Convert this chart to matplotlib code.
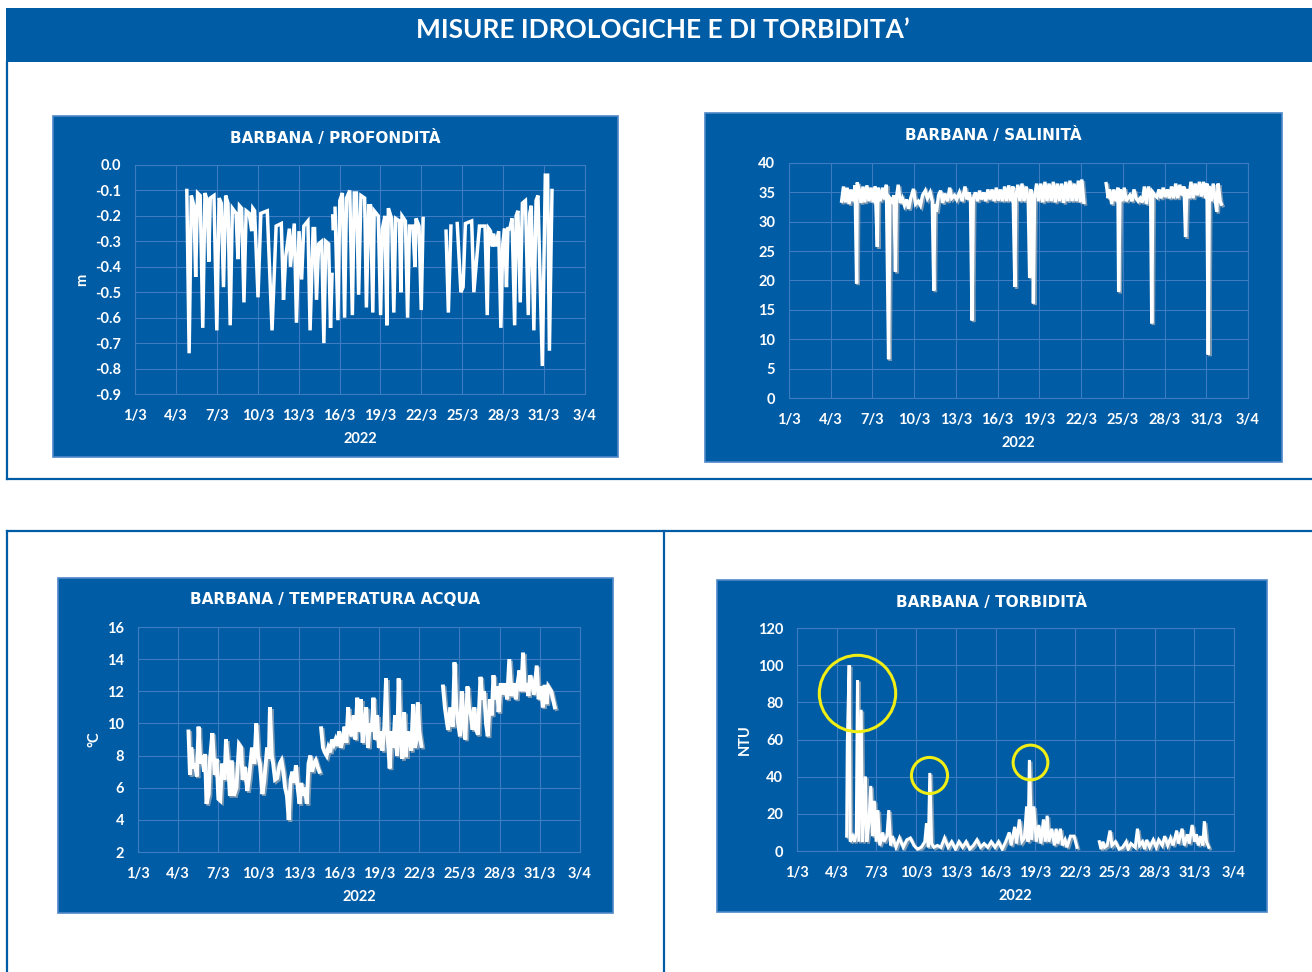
import matplotlib.pyplot as plt
import matplotlib.patheffects as pe
from matplotlib.lines import Line2D
from matplotlib.patches import Rectangle

plt.rcParams['font.family'] = ['Lato', 'DejaVu Sans']
plt.rcParams['font.weight'] = 'bold'
plt.rcParams['axes.unicode_minus'] = False

# ---- data (x = days since 1 March 2022) ----
page_title = 'MISURE IDROLOGICHE E DI TORBIDITA’'
year_label = '2022'
day_ticks = [0, 3, 6, 9, 12, 15, 18, 21, 24, 27, 30, 33]
day_labels = ['1/3', '4/3', '7/3', '10/3', '13/3', '16/3', '19/3', '22/3',
              '25/3', '28/3', '31/3', '3/4']

# water depth (m), one list per uninterrupted stretch of logging
depth_segments = [
    [(3.80, -0.10), (3.97, -0.74), (4.13, -0.12), (4.32, -0.16), (4.45, -0.44),
     (4.59, -0.11), (4.78, -0.12), (4.97, -0.64), (5.13, -0.11), (5.30, -0.14),
     (5.41, -0.38), (5.52, -0.13), (5.79, -0.12), (6.00, -0.65), (6.17, -0.13),
     (6.33, -0.15), (6.49, -0.48), (6.65, -0.12), (6.82, -0.15), (6.98, -0.63),
     (7.14, -0.17), (7.41, -0.19), (7.55, -0.37), (7.66, -0.16), (7.82, -0.17),
     (7.99, -0.54), (8.15, -0.18), (8.37, -0.19), (8.56, -0.26), (8.64, -0.17),
     (8.77, -0.18), (9.02, -0.52), (9.23, -0.19), (9.70, -0.18), (10.05, -0.65),
     (10.35, -0.24), (10.73, -0.23), (10.89, -0.53), (11.05, -0.36), (11.32, -0.25),
     (11.40, -0.40), (11.68, -0.23), (11.84, -0.62), (12.03, -0.26), (12.22, -0.45),
     (12.38, -0.24), (12.68, -0.22), (12.84, -0.65), (13.06, -0.25), (13.17, -0.25),
     (13.31, -0.53), (13.47, -0.31), (13.69, -0.30), (13.85, -0.70), (13.99, -0.30),
     (14.20, -0.31), (14.34, -0.64), (14.45, -0.43)],
    [(14.50, -0.20), (14.53, -0.25)],
    [(14.67, -0.17), (14.88, -0.61), (15.02, -0.14), (15.21, -0.11), (15.37, -0.60),
     (15.51, -0.13), (15.75, -0.10), (15.94, -0.59), (16.08, -0.11), (16.24, -0.11),
     (16.40, -0.51), (16.57, -0.12), (16.84, -0.13), (16.97, -0.56), (17.14, -0.16),
     (17.27, -0.16), (17.44, -0.58), (17.54, -0.18), (17.84, -0.20), (18.01, -0.59),
     (18.14, -0.25), (18.33, -0.20), (18.47, -0.63), (18.58, -0.17), (18.82, -0.21),
     (18.98, -0.58), (19.12, -0.21), (19.39, -0.22), (19.50, -0.50), (19.58, -0.20),
     (19.83, -0.22), (19.99, -0.60), (20.13, -0.24), (20.37, -0.24), (20.53, -0.40),
     (20.61, -0.21), (20.83, -0.24), (20.99, -0.57), (21.13, -0.21)],
    [(22.81, -0.26), (22.98, -0.58), (23.17, -0.24)],
    [(23.63, -0.23), (23.90, -0.50), (24.06, -0.48), (24.23, -0.23), (24.69, -0.22),
     (24.85, -0.50), (25.26, -0.24), (25.39, -0.24), (25.67, -0.24), (25.83, -0.59),
     (25.94, -0.25), (26.07, -0.26), (26.21, -0.32), (26.29, -0.27), (26.43, -0.32),
     (26.67, -0.26), (26.83, -0.64), (26.97, -0.31), (27.10, -0.25), (27.24, -0.48),
     (27.35, -0.25), (27.49, -0.25), (27.65, -0.21), (27.84, -0.63), (27.95, -0.20),
     (28.08, -0.18), (28.25, -0.54), (28.41, -0.15), (28.63, -0.14), (28.84, -0.59),
     (28.95, -0.19), (29.06, -0.16), (29.25, -0.65), (29.41, -0.14), (29.55, -0.12),
     (29.87, -0.79), (30.09, -0.04), (30.26, -0.04), (30.39, -0.73), (30.58, -0.10)],
]

# salinity
salinity_segments = [
    [(3.78, 33.5), (3.92, 36.0), (4.05, 33.3), (4.18, 35.8), (4.32, 33.0), (4.45, 35.5),
     (4.60, 33.5), (4.75, 36.2), (4.86, 19.5), (4.90, 36.7), (5.05, 35.5), (5.18, 33.2),
     (5.32, 36.0), (5.45, 33.3), (5.60, 36.2), (5.75, 33.5), (5.90, 35.8), (6.05, 33.3),
     (6.20, 36.0), (6.35, 25.7), (6.40, 35.8), (6.55, 33.5), (6.72, 35.8), (6.85, 33.8),
     (7.00, 36.3), (7.16, 6.6), (7.25, 34.0), (7.40, 33.5), (7.55, 34.5), (7.65, 21.5),
     (7.72, 34.0), (7.85, 36.3), (8.00, 33.2), (8.15, 34.0), (8.30, 32.8), (8.45, 33.8),
     (8.60, 32.2), (8.75, 34.0), (8.95, 35.6), (9.10, 33.0), (9.30, 33.5), (9.45, 32.8),
     (9.60, 34.5), (9.80, 35.3), (9.95, 34.0), (10.15, 35.0), (10.30, 33.5), (10.41, 18.3),
     (10.48, 33.0), (10.60, 31.7), (10.75, 34.5), (10.90, 35.3), (11.05, 33.2), (11.20, 34.8),
     (11.40, 33.5), (11.55, 35.8), (11.70, 34.0), (11.90, 34.5), (12.05, 33.8), (12.25, 35.0),
     (12.45, 33.5), (12.65, 36.0), (12.80, 33.8), (12.95, 35.0), (13.05, 33.5), (13.16, 13.2),
     (13.25, 34.0), (13.40, 35.0), (13.55, 33.5), (13.70, 35.3), (13.85, 33.8), (14.00, 35.0),
     (14.15, 33.5), (14.30, 35.5), (14.45, 33.8), (14.60, 35.5), (14.75, 33.5), (14.90, 35.8),
     (15.05, 33.6), (15.20, 35.5), (15.35, 33.5), (15.50, 36.0), (15.65, 33.5), (15.80, 36.2),
     (15.95, 33.5), (16.10, 36.0), (16.24, 18.9), (16.30, 34.0), (16.45, 36.3), (16.60, 33.5),
     (16.75, 36.5), (16.90, 33.5), (17.05, 36.0), (17.20, 33.6), (17.30, 20.5), (17.38, 35.5),
     (17.50, 34.0), (17.57, 16.1), (17.65, 34.0), (17.80, 36.5), (17.95, 33.5), (18.10, 36.5),
     (18.25, 33.3), (18.40, 36.8), (18.55, 33.5), (18.70, 36.5), (18.85, 33.5), (19.00, 36.8),
     (19.15, 33.3), (19.30, 36.5), (19.45, 33.5), (19.60, 36.5), (19.75, 33.2), (19.90, 36.8),
     (20.05, 33.5), (20.20, 37.0), (20.35, 33.5), (20.50, 36.5), (20.65, 33.5), (20.80, 37.0),
     (20.95, 33.3), (21.05, 37.2), (21.20, 33.3)],
    [(22.80, 36.5), (22.95, 34.0), (23.05, 35.5), (23.20, 33.0), (23.35, 35.5), (23.50, 33.5),
     (23.65, 35.8), (23.70, 18.1), (23.80, 35.5), (23.95, 33.5), (24.10, 35.8), (24.25, 33.5),
     (24.35, 34.0), (24.50, 34.5), (24.65, 33.5), (24.80, 35.5), (24.95, 34.0), (25.10, 33.5),
     (25.25, 34.0), (25.40, 33.3), (25.55, 36.0), (25.70, 33.0), (25.85, 36.0), (26.00, 34.0),
     (26.08, 12.7), (26.15, 35.0), (26.30, 34.5), (26.45, 34.2), (26.60, 35.5), (26.75, 34.0),
     (26.90, 35.8), (27.05, 34.2), (27.20, 35.5), (27.35, 34.0), (27.50, 36.0), (27.65, 34.0),
     (27.80, 36.5), (27.95, 34.0), (28.10, 36.3), (28.25, 34.5), (28.40, 36.0), (28.51, 27.4),
     (28.60, 35.5), (28.75, 34.0), (28.90, 36.8), (29.05, 34.0), (29.20, 36.5), (29.35, 34.5),
     (29.50, 36.8), (29.65, 34.3), (29.80, 36.8), (29.95, 34.0), (30.05, 36.5), (30.14, 7.4),
     (30.22, 36.0), (30.35, 33.5), (30.50, 36.5), (30.62, 34.0), (30.75, 31.7), (30.85, 36.5),
     (31.00, 33.5), (31.08, 33.0)],
]

# water temperature (°C)
temperature_segments = [
    [(3.77, 9.5), (3.88, 6.8), (3.98, 8.5), (4.12, 7.2), (4.25, 7.5), (4.39, 6.7), (4.52, 9.8),
     (4.66, 7.5), (4.79, 8.0), (4.93, 7.0), (5.01, 8.1), (5.11, 5.0), (5.28, 5.6), (5.38, 7.8),
     (5.55, 9.4), (5.73, 6.8), (5.87, 7.8), (6.00, 5.3), (6.14, 5.2), (6.27, 7.5), (6.46, 6.5),
     (6.57, 9.0), (6.73, 7.5), (6.86, 5.5), (7.00, 7.7), (7.16, 5.5), (7.35, 6.0), (7.54, 8.7),
     (7.70, 8.5), (7.81, 6.5), (7.97, 7.3), (8.16, 5.8), (8.29, 6.6), (8.51, 8.5), (8.69, 7.5),
     (8.83, 10.0), (8.96, 8.0), (9.10, 7.5), (9.29, 5.6), (9.42, 6.4), (9.64, 8.5), (9.77, 7.8),
     (9.85, 11.0), (9.99, 8.0), (10.09, 7.5), (10.23, 6.5), (10.39, 6.6), (10.58, 7.5),
     (10.71, 7.7), (10.85, 7.0), (10.98, 6.0), (11.12, 5.5), (11.25, 4.0), (11.39, 6.5),
     (11.52, 7.0), (11.66, 6.3), (11.79, 7.4), (11.92, 6.0), (12.06, 5.0), (12.19, 6.3),
     (12.33, 5.5), (12.46, 6.0), (12.60, 5.0), (12.73, 7.5), (12.87, 8.0), (13.00, 7.0),
     (13.14, 7.5), (13.27, 7.7), (13.41, 7.3), (13.54, 7.0)],
    [(13.67, 9.7), (13.81, 8.5), (13.94, 8.2), (14.08, 8.0), (14.21, 8.5), (14.35, 8.2),
     (14.48, 9.0), (14.62, 8.7), (14.75, 9.0), (14.89, 8.6), (15.02, 9.5), (15.15, 8.5),
     (15.29, 9.0), (15.42, 9.8), (15.56, 8.8), (15.69, 11.0), (15.83, 9.5), (15.96, 9.2),
     (16.10, 10.5), (16.23, 9.0), (16.37, 11.6), (16.50, 9.5), (16.64, 11.5), (16.77, 8.8),
     (16.90, 10.0), (17.04, 11.0), (17.17, 8.5), (17.31, 10.0), (17.44, 9.5), (17.58, 11.6),
     (17.71, 9.0), (17.85, 10.5), (17.98, 8.5), (18.12, 9.5), (18.25, 8.3), (18.39, 9.8),
     (18.52, 12.8), (18.65, 9.0), (18.79, 7.2), (18.92, 9.5), (19.06, 8.5), (19.19, 10.5),
     (19.33, 8.0), (19.46, 12.8), (19.60, 9.0), (19.73, 7.8), (19.87, 10.7), (20.00, 7.9),
     (20.13, 9.5), (20.27, 9.0), (20.40, 8.3), (20.54, 11.2), (20.67, 8.5), (20.81, 9.0),
     (20.89, 11.3), (21.00, 9.5), (21.16, 8.6)],
    [(22.77, 12.3), (22.91, 11.0), (23.04, 10.2), (23.15, 9.6), (23.31, 11.0), (23.50, 9.8),
     (23.63, 13.8), (23.77, 11.0), (23.90, 10.0), (24.04, 9.2), (24.17, 12.0), (24.31, 10.0),
     (24.44, 9.0), (24.60, 12.3), (24.71, 11.0), (24.85, 10.5), (24.98, 9.6), (25.11, 11.0),
     (25.25, 9.6), (25.38, 9.3), (25.57, 12.9), (25.71, 11.5), (25.84, 12.0), (25.98, 10.0),
     (26.11, 9.2), (26.27, 11.5), (26.41, 10.5), (26.54, 13.0), (26.65, 11.5), (26.81, 12.3),
     (26.92, 10.7), (27.08, 12.5), (27.27, 11.8), (27.40, 12.5), (27.56, 11.5), (27.72, 14.0),
     (27.89, 11.7), (28.07, 12.5), (28.21, 11.5), (28.34, 12.5), (28.48, 13.3), (28.61, 12.0),
     (28.75, 14.4), (28.88, 12.0), (29.02, 12.5), (29.15, 11.7), (29.29, 13.0), (29.42, 12.5),
     (29.56, 11.8), (29.77, 13.6), (29.91, 11.5), (30.09, 12.3), (30.23, 11.0), (30.36, 12.4),
     (30.50, 11.2), (30.63, 12.3), (30.85, 12.0), (30.98, 11.5), (31.12, 11.0)],
]

# turbidity (NTU)
turbidity_segments = [
    [(3.75, 8), (3.80, 58), (3.94, 100), (4.02, 5), (4.21, 8), (4.35, 5), (4.48, 10),
     (4.57, 92), (4.67, 5), (4.84, 76), (4.95, 5), (5.05, 20), (5.16, 40), (5.27, 5),
     (5.43, 15), (5.57, 35), (5.71, 8), (5.84, 27), (5.98, 5), (6.11, 22), (6.25, 3),
     (6.47, 10), (6.58, 5), (6.79, 8), (6.93, 22), (7.07, 3), (7.20, 8), (7.47, 2),
     (7.74, 7), (8.02, 2), (8.29, 6), (8.56, 7), (8.83, 3), (9.10, 1), (9.38, 2), (9.65, 5),
     (9.78, 15), (9.92, 2), (10.03, 42), (10.16, 4), (10.33, 2), (10.60, 3), (10.87, 2),
     (11.14, 7), (11.41, 2), (11.68, 5), (11.96, 1), (12.23, 5), (12.50, 2), (12.77, 5),
     (13.04, 1), (13.32, 3), (13.59, 6), (13.86, 2), (14.13, 4), (14.40, 2), (14.67, 5),
     (14.95, 2), (15.22, 5), (15.49, 1), (15.76, 5), (16.03, 10), (16.17, 3), (16.44, 13),
     (16.58, 4), (16.79, 17), (16.98, 5), (17.17, 7), (17.34, 24), (17.45, 5), (17.55, 49),
     (17.72, 6), (17.88, 24), (18.07, 5), (18.26, 14), (18.42, 4), (18.61, 17), (18.75, 5),
     (18.89, 19), (19.02, 5), (19.24, 12), (19.43, 3), (19.57, 12), (19.70, 4), (19.89, 12),
     (20.05, 3), (20.24, 6), (20.38, 2), (20.65, 8), (20.92, 8), (21.14, 2)],
    [(22.83, 5), (22.96, 1), (23.10, 5), (23.23, 2), (23.42, 3), (23.64, 11), (23.78, 3),
     (24.05, 5), (24.32, 1), (24.59, 2), (24.86, 5), (25.00, 1), (25.22, 4), (25.54, 2),
     (25.71, 12), (25.87, 3), (26.09, 5), (26.25, 1), (26.41, 6), (26.63, 2), (26.90, 6),
     (27.12, 2), (27.31, 6), (27.58, 3), (27.77, 8), (27.99, 3), (28.21, 7), (28.40, 3),
     (28.67, 11), (28.80, 4), (29.08, 12), (29.24, 3), (29.48, 9), (29.62, 4), (29.84, 14),
     (30.03, 5), (30.16, 9), (30.30, 3), (30.49, 8), (30.65, 3), (30.76, 16), (30.92, 5),
     (31.09, 2)],
]

# turbidity peaks circled in yellow
highlight_days = [4.53, 9.97, 17.6]
highlight_vals = [85, 41, 48]

BLUE = '#005ca5'
GRID = '#3d7cc0'
EDGE = '#4d88c8'
YELLOW = '#f0ee14'
W, H = 1312, 972


def frac(x0, y0, x1, y1):
    # pixel box measured from the top-left corner -> figure fractions
    return [x0 / W, 1 - y1 / H, (x1 - x0) / W, (y1 - y0) / H]


def fig_line(xs, ys):
    fig.add_artist(Line2D([x / W for x in xs], [1 - y / H for y in ys],
                          color=BLUE, lw=1.6, transform=fig.transFigure))


def make_panel(box, plot, title, title_y, ylim, yticks, yfmt, ylabel=None):
    x0, y0, x1, y1 = box
    # blue chart card, kept behind the axes
    fig.add_artist(Rectangle((x0 / W, 1 - y1 / H), (x1 - x0) / W, (y1 - y0) / H,
                             transform=fig.transFigure, facecolor=BLUE,
                             edgecolor=EDGE, lw=1.2, zorder=-1))
    fig.text((x0 + x1) / 2 / W, 1 - title_y / H, title, color='white',
             family=['DejaVu Sans'],
             fontsize=11, fontweight='bold', ha='center', va='center')
    ax = fig.add_axes(frac(*plot))
    ax.set_zorder(2)
    ax.set_facecolor(BLUE)
    ax.set_xlim(day_ticks[0], day_ticks[-1])
    ax.set_ylim(*ylim)
    ax.set_xticks(day_ticks)
    ax.set_xticklabels(day_labels)
    ax.set_yticks(yticks)
    ax.set_yticklabels([yfmt % v for v in yticks])
    ax.grid(True, color=GRID, lw=0.8)
    ax.set_axisbelow(True)
    for s in ax.spines.values():
        s.set_color(GRID)
        s.set_linewidth(0.8)
    ax.tick_params(colors='white', length=0, labelsize=10.5)
    ax.tick_params(axis='x', pad=11)
    ax.tick_params(axis='y', pad=10)
    ax.set_xlabel(year_label, color='white', fontsize=10.5, fontweight='bold', labelpad=6)
    if ylabel:
        ax.set_ylabel(ylabel, color='white', fontsize=10.5, fontweight='bold', labelpad=4)
    return ax


def draw_series(ax, segments, lw=2.2, shadow=False):
    effects = [pe.SimpleLineShadow(offset=(1.2, -1.2), shadow_color='#9aa7b5', alpha=0.8),
               pe.Normal()] if shadow else None
    for seg in segments:
        days = [p[0] for p in seg]
        vals = [p[1] for p in seg]
        ax.plot(days, vals, color='white', lw=lw, solid_joinstyle='miter',
                path_effects=effects)


fig = plt.figure(figsize=(W / 100, H / 100), dpi=100)
fig.patch.set_facecolor('white')

# page header band
fig.add_artist(Rectangle((6 / W, 1 - 62 / H), 1 - 6 / W, 54 / H,
                         transform=fig.transFigure, facecolor=BLUE, edgecolor='none',
                         zorder=-1))
fig.text(663 / W, 1 - 29.5 / H, page_title, color='white', fontsize=18.9,
         fontweight='bold', ha='center', va='center')

# section frames
fig_line([7, 7], [62, 479])
fig_line([7, 1312], [479, 479])
fig_line([7, 1312], [531, 531])
fig_line([7, 7], [531, 972])
fig_line([664, 664], [531, 972])

ax1 = make_panel((53, 116, 618, 457), (135, 165, 585, 394), 'BARBANA / PROFONDITÀ', 138,
                 (-0.9, 0.0), [0.0, -0.1, -0.2, -0.3, -0.4, -0.5, -0.6, -0.7, -0.8, -0.9],
                 '%.1f', 'm')
draw_series(ax1, depth_segments, lw=2.5)

ax2 = make_panel((705, 113, 1282, 462), (789, 163, 1248, 398), 'BARBANA / SALINITÀ', 135,
                 (0, 40), [0, 5, 10, 15, 20, 25, 30, 35, 40], '%d')
draw_series(ax2, salinity_segments, lw=2.4, shadow=True)

ax3 = make_panel((58, 578, 613, 913), (138, 627, 580, 852), 'BARBANA / TEMPERATURA ACQUA', 600,
                 (2, 16), [2, 4, 6, 8, 10, 12, 14, 16], '%d', '°C')
draw_series(ax3, temperature_segments, lw=2.8, shadow=True)

ax4 = make_panel((717, 580, 1267, 912), (797, 628, 1234, 851), 'BARBANA / TORBIDITÀ', 602,
                 (0, 120), [0, 20, 40, 60, 80, 100, 120], '%d', 'NTU')
draw_series(ax4, turbidity_segments, lw=2.2, shadow=True)
for d, v, ms in zip(highlight_days, highlight_vals, [55, 26, 25]):
    ax4.plot(d, v, 'o', ms=ms, mfc='none', mec=YELLOW, mew=2.2, clip_on=False)

fig.savefig('out.png', dpi=100, facecolor='white')
